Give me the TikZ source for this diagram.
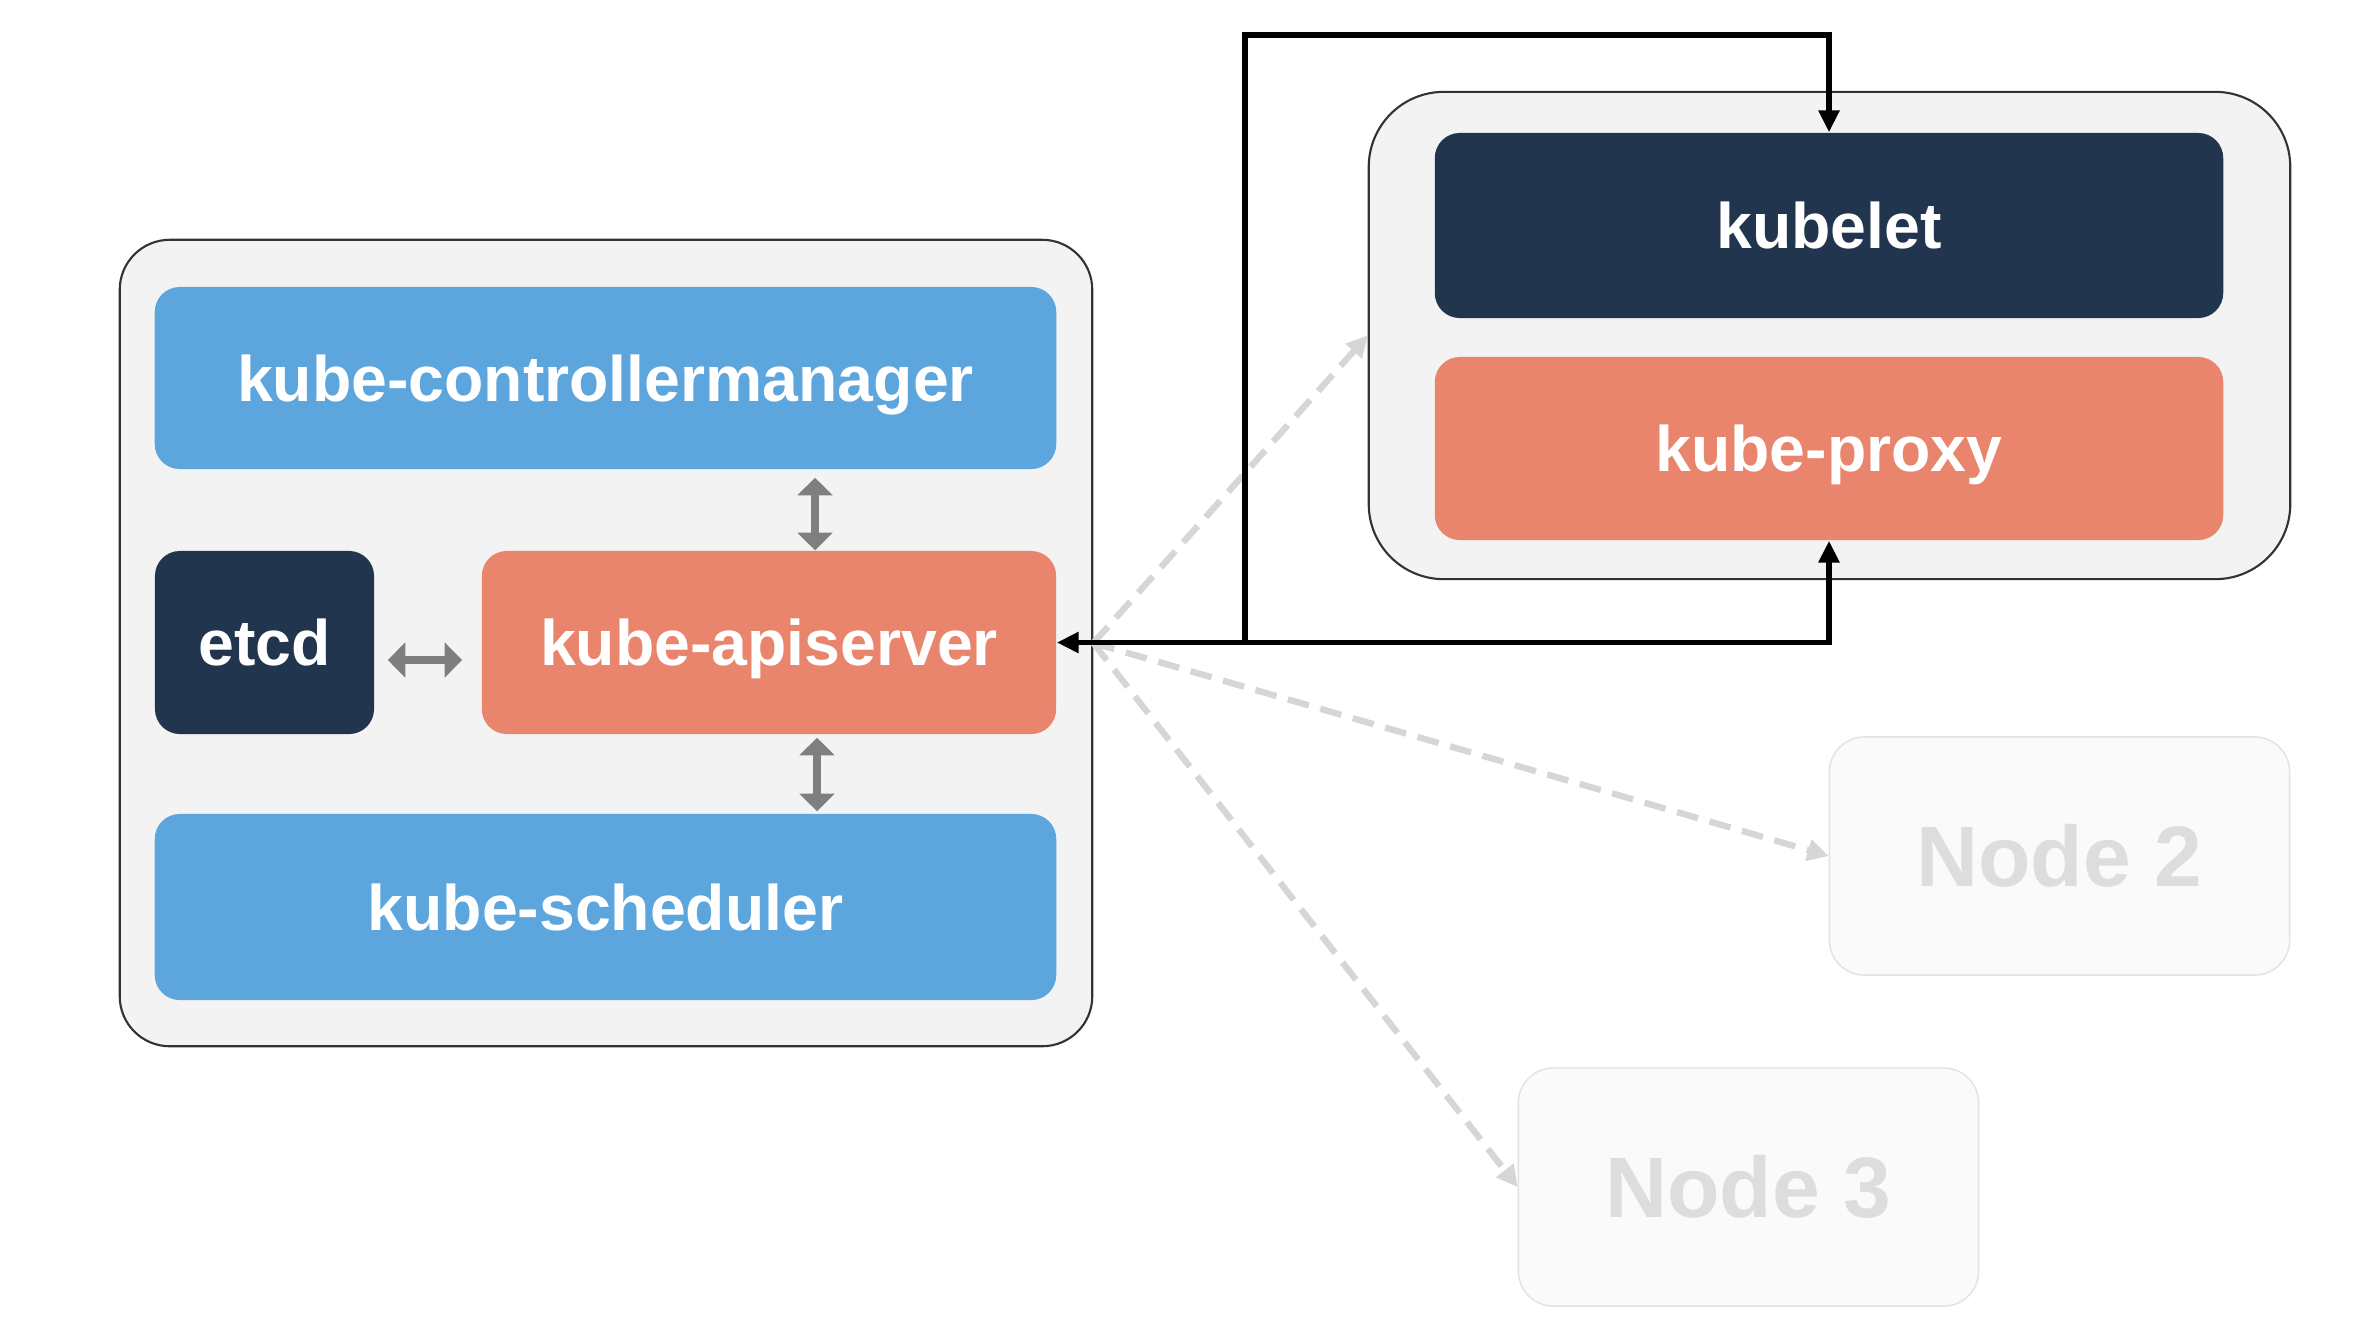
\documentclass[tikz,border=0pt]{standalone}
\usepackage{fontspec}
\setmainfont{Liberation Sans}
\usepackage{tikz}
\usetikzlibrary{arrows.meta,positioning,calc}
\definecolor{kblue}{HTML}{5DA5DD}
\definecolor{knavy}{HTML}{21364E}
\definecolor{ksalmon}{HTML}{E9856D}
\definecolor{kpanel}{HTML}{F3F3F3}
\definecolor{kghost}{HTML}{FAFAFA}
\definecolor{kghostline}{HTML}{E2E2E2}
\definecolor{kghosttext}{HTML}{DDDDDD}
\definecolor{kdash}{HTML}{D6D6D6}
\definecolor{karrow}{HTML}{7F7F7F}

\begin{document}
\begin{tikzpicture}[x = 0.01cm, y = -0.01cm,
  panel/.style = {draw = black!80, line width = 0.6pt, fill = kpanel, inner sep = 0},
  comp/.style = {rounded corners = 0.25cm, inner sep = 0, text = white, text height = 13.1pt, text depth = 0pt, font = \fontsize{18.3}{22}\selectfont\bfseries},
  ghost/.style = {draw = kghostline, fill = kghost, rounded corners = 0.35cm, inner sep = 0, text = kghosttext, text height = 17.5pt, text depth = 0pt, font = \fontsize{24.4}{29}\selectfont\bfseries, minimum width = 4.6cm, minimum height = 2.38cm},
  bus/.style = {line width = 1.6pt, >={Triangle[length = 6.2pt, width = 5.7pt]}},
  rpc/.style = {draw = karrow, line width = 2.5pt, >={Triangle[length = 5pt, width = 9.8pt]}},
  link/.style = {draw = kdash, line width = 1.8pt, dash pattern = on 6.2pt off 3.4pt, ->, >={Triangle[length = 6pt, width = 6pt]}}]
\useasboundingbox[fill = white] (0,0) rectangle (2372,1326);

% master side
\node[panel, rounded corners = 0.5cm, minimum width = 9.72cm, minimum height = 8.06cm] (master) at (606,643) {};
\node[comp, fill = kblue, minimum width = 9.01cm, minimum height = 1.82cm] (cm) at (605.5,378) {kube-controllermanager};
\node[comp, fill = knavy, minimum width = 2.19cm, minimum height = 1.83cm] (etcd) at (264.5,642.5) {etcd};
\node[comp, fill = ksalmon, minimum width = 5.74cm, minimum height = 1.83cm] (api) at (769,642.5) {kube-apiserver};
\node[comp, fill = kblue, minimum width = 9.01cm, minimum height = 1.86cm] (sched) at (605.5,907) {kube-scheduler};

% worker side
\node[panel, rounded corners = 0.75cm, minimum width = 9.21cm, minimum height = 4.87cm] (worker) at (1829.5,335.5) {};
\node[comp, fill = knavy, minimum width = 7.88cm, minimum height = 1.85cm] (kubelet) at (1829,225.5) {kubelet};
\node[comp, fill = ksalmon, minimum width = 7.88cm, minimum height = 1.83cm] (proxy) at (1829,448.5) {kube-proxy};

\node[ghost] (node2) at (2059.5,856) {Node 2};
\node[ghost] (node3) at (1748.5,1187) {Node 3};

% grey arrows inside the master
\coordinate (cmup) at ([xshift = 4.6mm]api.north);
\coordinate (cmdn) at ([xshift = 4.8mm]api.south);
\coordinate (etl) at ([yshift = -1.75mm]etcd.east);
\draw[rpc, <->, shorten <= 0.8mm] (cmup |- cm.south) -- (cmup);
\draw[rpc, <->, shorten <= 0.3mm, shorten >= 0.2mm] (cmdn) -- (cmdn |- sched.north);
\draw[rpc, <->, shorten <= 1.3mm, shorten >= 1.9mm] (etl) -- (etl -| api.west);

% dashed links to the nodes
\draw[link] (master.east) -- (worker.west);
\draw[link] (master.east) -- (node2.west);
\draw[link] (master.east) -- (node3.west);

% black wiring
\coordinate (jn) at (1245,642.5);
\coordinate (tp) at (1245,35);
\draw[bus, <->] (api.east) -- (jn) -- (tp) -| (kubelet.north);
\draw[bus, ->] (jn) -| (proxy.south);
\end{tikzpicture}
\end{document}
